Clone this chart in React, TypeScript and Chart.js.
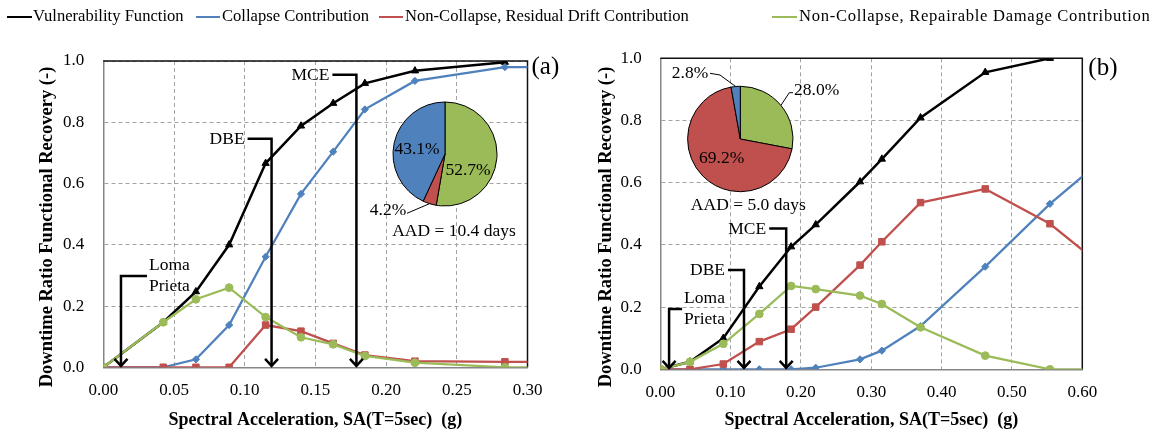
import React, { useEffect, useRef } from 'react';
import { Chart, registerables } from 'chart.js';

Chart.register(...registerables);

const FONT = "'Liberation Serif', 'Times New Roman', Times, serif";

const seriesNames = [
  'Vulnerability Function',
  'Collapse Contribution',
  'Non-Collapse, Residual Drift Contribution',
  'Non-Collapse, Repairable Damage Contribution',
];
const seriesColors = ['#000000', '#4F81BD', '#C0504D', '#9BBB59'];
const markerStyles = ['triangle', 'rectRot', 'rect', 'circle'];
const markerRadii = [4.2, 3.6, 4.6, 3.9];

// Panel (a): spectral acceleration (g) and downtime ratio per series
const saA = [0, 0.0424, 0.0655, 0.089, 0.1148, 0.1398, 0.1626, 0.185, 0.2204, 0.284, 0.35];
const vulnA = [0, 0.147, 0.247, 0.4, 0.666, 0.788, 0.862, 0.927, 0.968, 0.996, null];
const collapseA = [0, 0, 0.026, 0.138, 0.361, 0.566, 0.704, 0.842, 0.935, 0.98, 0.98];
const residualA = [0, 0, 0, 0, 0.138, 0.118, 0.078, 0.04, 0.02, 0.018, 0.018];
const repairA = [0, 0.147, 0.222, 0.26, 0.164, 0.098, 0.075, 0.037, 0.015, 0, 0];

// Panel (b)
const saB = [0, 0.0422, 0.0896, 0.1408, 0.186, 0.221, 0.284, 0.315, 0.37, 0.462, 0.554, 0.646];
const vulnB = [0, 0.024, 0.1, 0.266, 0.394, 0.465, 0.603, 0.676, 0.809, 0.955, 1.0, null];
const collapseB = [0, 0, 0, 0, 0, 0.005, 0.032, 0.06, 0.139, 0.33, 0.532, 0.707];
const residualB = [0, 0, 0.017, 0.089, 0.129, 0.2, 0.335, 0.41, 0.536, 0.58, 0.468, 0.3];
const repairB = [0, 0.024, 0.082, 0.178, 0.268, 0.258, 0.237, 0.21, 0.135, 0.044, 0, 0];

// Axis ticks
const xTicksA = [0, 0.05, 0.1, 0.15, 0.2, 0.25, 0.3];
const xTicksB = [0, 0.1, 0.2, 0.3, 0.4, 0.5, 0.6];
const yTicks = [0, 0.2, 0.4, 0.6, 0.8, 1.0];

// Pie insets: share of average annual downtime (repairable, residual drift, collapse)
const pieA = [52.7, 4.2, 43.1];
const pieB = [28.0, 69.2, 2.8];
const pieColors = [seriesColors[3], seriesColors[2], seriesColors[1]];
const aadA = 10.4;
const aadB = 5.0;

// Hazard levels marked by arrows
const hazardNames = [['Loma', 'Prieta'], ['DBE'], ['MCE']];
const hazardSA = [0.0125, 0.119, 0.179];

const Y_TITLE = 'Downtime Ratio Functional Recovery (-)';
const X_TITLE = 'Spectral Acceleration, SA(T=5sec)  (g)';

type PanelLayout = {
  left: number;
  width: number;
  yAxisW: number;
  padTop: number;
  padRight: number;
  xAxisH: number;
  yTickPad: number;
  xTickPad: number;
  yTitleX: number;
  yTitleY: number;
  xTitleY: number;
  letter: string;
  letterDX: number;
  letterDY: number;
  arrowTops: number[];
  arrowArms: number[];
};

const layoutA: PanelLayout = {
  left: 0,
  width: 580,
  yAxisW: 103.3,
  padTop: 61,
  padRight: 52.5,
  xAxisH: 64.7,
  yTickPad: 19,
  xTickPad: 13,
  yTitleX: 47,
  yTitleY: 227,
  xTitleY: 420,
  letter: '(a)',
  letterDX: 4,
  letterDY: 6,
  arrowTops: [0.298, 0.746, 0.955],
  arrowArms: [26, 24, 24],
};

const layoutB: PanelLayout = {
  left: 580,
  width: 583,
  yAxisW: 80.3,
  padTop: 58.3,
  padRight: 80.7,
  xAxisH: 62.7,
  yTickPad: 18.6,
  xTickPad: 13,
  yTitleX: 26.5,
  yTitleY: 227,
  xTitleY: 420,
  letter: '(b)',
  letterDX: 6,
  letterDY: 10,
  arrowTops: [0.194, 0.319, 0.453],
  arrowArms: [13, 16, 17],
};

type PieLabel = { dx: number; dy: number; leader?: number[][] };
type PieLayout = {
  left: number;
  top: number;
  width: number;
  height: number;
  r: number;
  pad: { left: number; top: number; right: number; bottom: number };
  labels: PieLabel[];
  aad: { dx: number; dy: number };
};

const pieLayoutA: PieLayout = {
  left: 365,
  top: 92,
  width: 170,
  height: 155,
  r: 52,
  pad: { left: 28, top: 10, right: 38, bottom: 41 },
  labels: [
    { dx: 23, dy: 16.7 },
    { dx: -57, dy: 56, leader: [[-38, 59.3]] },
    { dx: -28, dy: -5 },
  ],
  aad: { dx: 9, dy: 77.7 },
};

const pieLayoutB: PieLayout = {
  left: 668,
  top: 60,
  width: 185,
  height: 157,
  r: 52.7,
  pad: { left: 19.6, top: 26.3, right: 60, bottom: 25.3 },
  labels: [
    { dx: 76.4, dy: -49, leader: [[52.7, -46.3], [49, -46.3]] },
    { dx: -18.6, dy: 19.3 },
    { dx: -50.3, dy: -65.7, leader: [[-30.3, -65.7], [-20.3, -64]] },
  ],
  aad: { dx: 8, dy: 66 },
};

const legendLayout = [
  { lineX: 7, lineW: 25, textX: 33, spacing: 0 },
  { lineX: 196, lineW: 24, textX: 222, spacing: 0 },
  { lineX: 379, lineW: 24, textX: 405, spacing: 0 },
  { lineX: 772, lineW: 25, textX: 799, spacing: 0.7 },
];

function panelDecor(L: PanelLayout) {
  return {
    id: 'panelDecor',
    beforeDatasetsDraw(chart: any) {
      const { ctx, chartArea: a } = chart;
      ctx.save();
      ctx.strokeStyle = '#111';
      ctx.lineWidth = 1.5;
      ctx.beginPath();
      ctx.moveTo(a.left, a.top);
      ctx.lineTo(a.right, a.top);
      ctx.lineTo(a.right, a.bottom);
      ctx.stroke();
      ctx.restore();
    },
    afterDatasetsDraw(chart: any) {
      const { ctx } = chart;
      const xs = chart.scales.x;
      const ys = chart.scales.y;
      const base = ys.getPixelForValue(0);
      ctx.save();
      ctx.strokeStyle = '#000';
      ctx.fillStyle = '#000';
      ctx.lineWidth = 2.5;
      ctx.lineJoin = 'miter';
      ctx.font = `17.5px ${FONT}`;
      ctx.textBaseline = 'middle';
      hazardSA.forEach((sa, i) => {
        const px = xs.getPixelForValue(sa);
        const py = ys.getPixelForValue(L.arrowTops[i]);
        const toRight = i === 0;
        const arm = L.arrowArms[i];
        const armEnd = toRight ? px + arm : px - arm;
        ctx.beginPath();
        ctx.moveTo(armEnd, py);
        ctx.lineTo(px, py);
        ctx.lineTo(px, base - 1);
        ctx.stroke();
        ctx.beginPath();
        ctx.moveTo(px - 6.5, base - 8.5);
        ctx.lineTo(px, base - 1.5);
        ctx.lineTo(px + 6.5, base - 8.5);
        ctx.stroke();
        const lines = hazardNames[i];
        if (toRight) {
          ctx.textAlign = 'left';
          ctx.fillText(lines[0], armEnd + 2, py - 11);
          ctx.fillText(lines[1], armEnd + 2, py + 10.5);
        } else {
          ctx.textAlign = 'right';
          ctx.fillText(lines[0], armEnd - 3, py + 0.5);
        }
      });
      ctx.restore();
    },
    afterDraw(chart: any) {
      const { ctx, chartArea: a } = chart;
      ctx.save();
      ctx.fillStyle = '#000';
      ctx.font = `bold 18px ${FONT}`;
      ctx.textAlign = 'center';
      ctx.textBaseline = 'middle';
      ctx.fillText(X_TITLE, (a.left + a.right) / 2, L.xTitleY);
      ctx.font = `bold 18.5px ${FONT}`;
      ctx.translate(L.yTitleX, L.yTitleY);
      ctx.rotate(-Math.PI / 2);
      ctx.fillText(Y_TITLE, 0, 0);
      ctx.restore();
      ctx.save();
      ctx.fillStyle = '#000';
      ctx.font = `25px ${FONT}`;
      ctx.textAlign = 'left';
      ctx.textBaseline = 'middle';
      ctx.fillText(L.letter, a.right + L.letterDX, a.top + L.letterDY);
      ctx.restore();
    },
  };
}

function buildPanel(
  canvas: HTMLCanvasElement,
  sa: number[],
  series: (number | null)[][],
  xMax: number,
  xTicks: number[],
  xDecimals: number,
  L: PanelLayout
) {
  const datasets = series.map((vals, i) => ({
    label: seriesNames[i],
    data: sa.map((x, k) => ({ x, y: vals[k] })),
    borderColor: seriesColors[i],
    backgroundColor: seriesColors[i],
    borderWidth: i === 0 ? 2.5 : 2.25,
    pointStyle: markerStyles[i],
    pointRadius: markerRadii[i],
    pointBorderWidth: 1,
    pointBackgroundColor: seriesColors[i],
    pointBorderColor: seriesColors[i],
    tension: 0,
    order: 4 - i,
  }));
  const gridColor = '#a3a3a3';
  return new Chart(canvas, {
    type: 'line',
    data: { datasets } as any,
    options: {
      animation: false,
      responsive: false,
      maintainAspectRatio: false,
      layout: { padding: { top: L.padTop, right: L.padRight, left: 0, bottom: 0 } },
      plugins: { legend: { display: false }, tooltip: { enabled: false } },
      scales: {
        x: {
          type: 'linear',
          min: 0,
          max: xMax,
          afterBuildTicks: (s: any) => {
            s.ticks = xTicks.map((v) => ({ value: v }));
          },
          afterFit: (s: any) => {
            s.height = L.xAxisH;
          },
          ticks: {
            callback: (v: any) => Number(v).toFixed(xDecimals),
            font: { family: FONT, size: 17 },
            color: '#000',
            padding: L.xTickPad,
            maxRotation: 0,
            autoSkip: false,
          },
          grid: { color: gridColor, lineWidth: 1, drawTicks: false },
          border: { display: true, color: '#868686', width: 1.5, dash: [4, 3] },
        },
        y: {
          type: 'linear',
          min: 0,
          max: 1,
          afterBuildTicks: (s: any) => {
            s.ticks = yTicks.map((v) => ({ value: v }));
          },
          afterFit: (s: any) => {
            s.width = L.yAxisW;
          },
          ticks: {
            callback: (v: any) => Number(v).toFixed(1),
            font: { family: FONT, size: 17 },
            color: '#000',
            padding: L.yTickPad,
          },
          grid: { color: gridColor, lineWidth: 1, drawTicks: false },
          border: { display: true, color: '#868686', width: 1.5, dash: [4, 3] },
        },
      },
    } as any,
    plugins: [panelDecor(L)],
  });
}

function pieLabels(values: number[], aad: number, P: PieLayout) {
  return {
    id: 'pieLabels',
    afterDatasetsDraw(chart: any) {
      const { ctx } = chart;
      const arcs = chart.getDatasetMeta(0).data;
      const cx = arcs[0].x;
      const cy = arcs[0].y;
      ctx.save();
      ctx.fillStyle = '#000';
      ctx.strokeStyle = '#000';
      ctx.lineWidth = 1;
      ctx.font = `17.5px ${FONT}`;
      ctx.textAlign = 'center';
      ctx.textBaseline = 'middle';
      values.forEach((v, i) => {
        const lab = P.labels[i];
        if (lab.leader) {
          const arc = arcs[i];
          const mid = (arc.startAngle + arc.endAngle) / 2;
          const ex = arc.x + Math.cos(mid) * arc.outerRadius;
          const ey = arc.y + Math.sin(mid) * arc.outerRadius;
          ctx.beginPath();
          lab.leader.forEach((p, k) => {
            if (k === 0) ctx.moveTo(cx + p[0], cy + p[1]);
            else ctx.lineTo(cx + p[0], cy + p[1]);
          });
          ctx.lineTo(ex, ey);
          ctx.stroke();
        }
        ctx.fillText(`${v.toFixed(1)}%`, cx + lab.dx, cy + lab.dy);
      });
      ctx.fillText(`AAD = ${aad.toFixed(1)} days`, cx + P.aad.dx, cy + P.aad.dy);
      ctx.restore();
    },
  };
}

function buildPie(canvas: HTMLCanvasElement, values: number[], aad: number, P: PieLayout) {
  return new Chart(canvas, {
    type: 'pie',
    data: {
      labels: ['Repairable Damage', 'Residual Drift', 'Collapse'],
      datasets: [
        {
          data: values,
          backgroundColor: pieColors,
          borderColor: '#000',
          borderWidth: 1,
        },
      ],
    },
    options: {
      animation: false,
      responsive: false,
      maintainAspectRatio: false,
      radius: P.r,
      layout: { padding: P.pad },
      plugins: { legend: { display: false }, tooltip: { enabled: false } },
    } as any,
    plugins: [pieLabels(values, aad, P)],
  });
}

export default function App() {
  const refA = useRef<HTMLCanvasElement>(null);
  const refB = useRef<HTMLCanvasElement>(null);
  const pieRefA = useRef<HTMLCanvasElement>(null);
  const pieRefB = useRef<HTMLCanvasElement>(null);

  useEffect(() => {
    const charts = [
      buildPanel(refA.current!, saA, [vulnA, collapseA, residualA, repairA], 0.3, xTicksA, 2, layoutA),
      buildPanel(refB.current!, saB, [vulnB, collapseB, residualB, repairB], 0.6, xTicksB, 2, layoutB),
      buildPie(pieRefA.current!, pieA, aadA, pieLayoutA),
      buildPie(pieRefB.current!, pieB, aadB, pieLayoutB),
    ];
    return () => charts.forEach((c) => c.destroy());
  }, []);

  const abs = (l: number, t: number, w: number, h: number): React.CSSProperties => ({
    position: 'absolute',
    left: l,
    top: t,
    width: w,
    height: h,
  });

  return (
    <div
      style={{
        position: 'absolute',
        left: 0,
        top: 0,
        width: 1163,
        height: 432,
        background: '#fff',
        overflow: 'hidden',
        fontFamily: FONT,
      }}
    >
      <canvas ref={refA} width={layoutA.width} height={432} style={abs(layoutA.left, 0, layoutA.width, 432)} />
      <canvas ref={refB} width={layoutB.width} height={432} style={abs(layoutB.left, 0, layoutB.width, 432)} />
      <canvas
        ref={pieRefA}
        width={pieLayoutA.width}
        height={pieLayoutA.height}
        style={abs(pieLayoutA.left, pieLayoutA.top, pieLayoutA.width, pieLayoutA.height)}
      />
      <canvas
        ref={pieRefB}
        width={pieLayoutB.width}
        height={pieLayoutB.height}
        style={abs(pieLayoutB.left, pieLayoutB.top, pieLayoutB.width, pieLayoutB.height)}
      />
      {seriesNames.map((name, i) => (
        <React.Fragment key={name}>
          <div
            style={{
              ...abs(legendLayout[i].lineX, 15.5, legendLayout[i].lineW, 2.5),
              background: seriesColors[i],
            }}
          />
          <div
            style={{
              position: 'absolute',
              left: legendLayout[i].textX,
              top: 8.3,
              fontSize: '16.6px',
              lineHeight: '16.6px',
              letterSpacing: `${legendLayout[i].spacing}px`,
              whiteSpace: 'nowrap',
              color: '#000',
            }}
          >
            {name}
          </div>
        </React.Fragment>
      ))}
    </div>
  );
}
